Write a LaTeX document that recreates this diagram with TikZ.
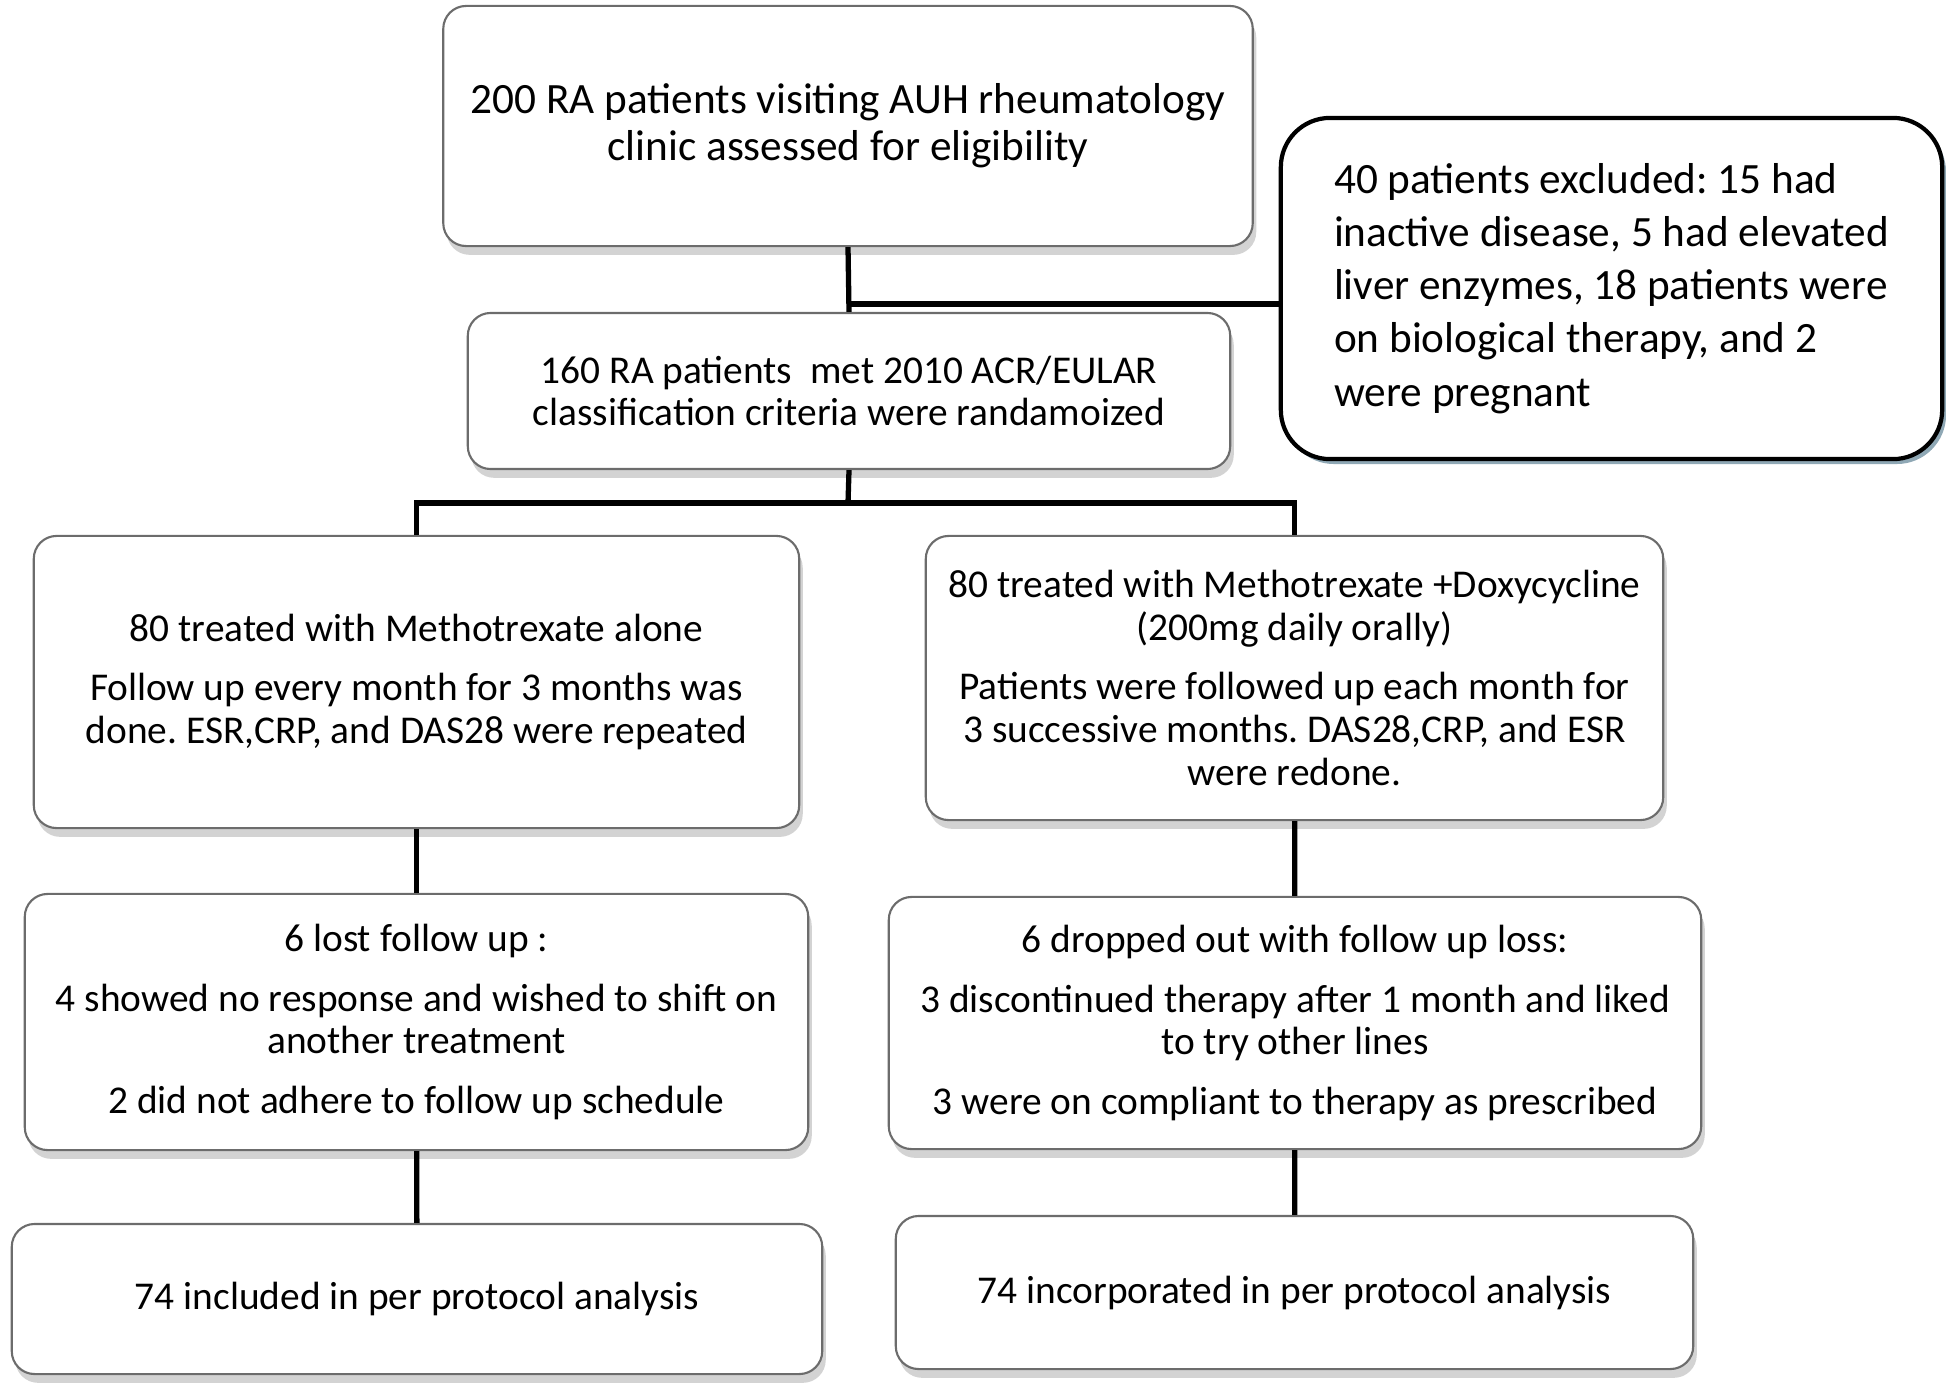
\documentclass[tikz,border=0pt]{standalone}
\usepackage{fontspec}
\setmainfont{Carlito}
\usetikzlibrary{shadows}
\definecolor{shadowBlue}{RGB}{143,168,181}
\frenchspacing

\begin{document}
\begin{tikzpicture}
[x=0.01cm,y=-0.01cm,
  lineDecorate/.style={-,line width=1.5pt},%
  boxDecorate/.style={draw=gray!85!black,line width=0.6pt,rounded corners=6.5pt,fill=white,
    align=center,inner sep=0pt,font=\fontsize{11.2}{12.2}\selectfont,
    drop shadow={shadow xshift=1pt,shadow yshift=-2.5pt,opacity=0.35}},%
  exclDecorate/.style={draw=black,line width=1.2pt,rounded corners=14pt,fill=white,
    align=left,inner sep=0pt,font=\fontsize{12.3}{15.1}\selectfont,
    drop shadow={shadow xshift=1.1pt,shadow yshift=-1.4pt,fill=shadowBlue,opacity=1}}]
\useasboundingbox (0,0) rectangle (1946,1391);
%% boxes
\node (A) at (848,126) [boxDecorate,minimum width=8.09cm,minimum height=2.40cm,
  font=\fontsize{12.3}{13.4}\selectfont]
  {200 RA patients visiting AUH rheumatology\\clinic assessed for eligibility};
\node (excl) at (1611.5,288.5) [exclDecorate,minimum width=6.61cm,minimum height=3.41cm]
  {40 patients excluded: 15 had\\inactive disease, 5 had elevated\\liver enzymes, 18 patients were\\on biological therapy, and 2\\were pregnant};
\node (B) at (849,391) [boxDecorate,minimum width=7.62cm,minimum height=1.56cm]
  {160 RA patients \ met 2010 ACR/EULAR\\classification criteria were randamoized};
\node (C) at (416.5,682) [boxDecorate,minimum width=7.65cm,minimum height=2.92cm]
  {80 treated with Methotrexate alone\\[4.7pt]Follow up every month for 3 months was\\done. ESR,CRP, and DAS28 were repeated};
\node (D) at (1294.5,678) [boxDecorate,minimum width=7.37cm,minimum height=2.84cm]
  {80 treated with Methotrexate +Doxycycline\\(200mg daily orally)\\[4.7pt]Patients were followed up each month for\\3 successive months. DAS28,CRP, and ESR\\were redone.};
\node (E) at (416.5,1022) [boxDecorate,minimum width=7.83cm,minimum height=2.56cm]
  {6 lost follow up :\\[4.7pt]4 showed no response and wished to shift on\\another treatment\\[4.7pt]2 did not adhere to follow up schedule};
\node (F) at (1295,1023) [boxDecorate,minimum width=8.12cm,minimum height=2.52cm]
  {6 dropped out with follow up loss:\\[4.7pt]3 discontinued therapy after 1 month and liked\\to try other lines\\[4.7pt]3 were on compliant to therapy as prescribed};
\node (G) at (417,1299) [boxDecorate,minimum width=8.10cm,minimum height=1.50cm]
  {74 included in per protocol analysis};
\node (H) at (1294.5,1292.5) [boxDecorate,minimum width=7.97cm,minimum height=1.53cm]
  {74 incorporated in per protocol analysis};
%% junctions
\coordinate (split1) at (848,304);
\coordinate (split2) at (848,503);
%% connectors
\draw[lineDecorate] (A.south) -- (B.north);
\draw[lineDecorate] (split1) -- (split1 -| excl.west);
\draw[lineDecorate] (B.south) -- (split2);
\draw[lineDecorate] (C.north) |- (split2) -| (D.north);
\path
\foreach \startnode/\endnode in {C/E, E/G, D/F, F/H}
{
  (\startnode) edge[lineDecorate] (\endnode)
};
\end{tikzpicture}
\end{document}
